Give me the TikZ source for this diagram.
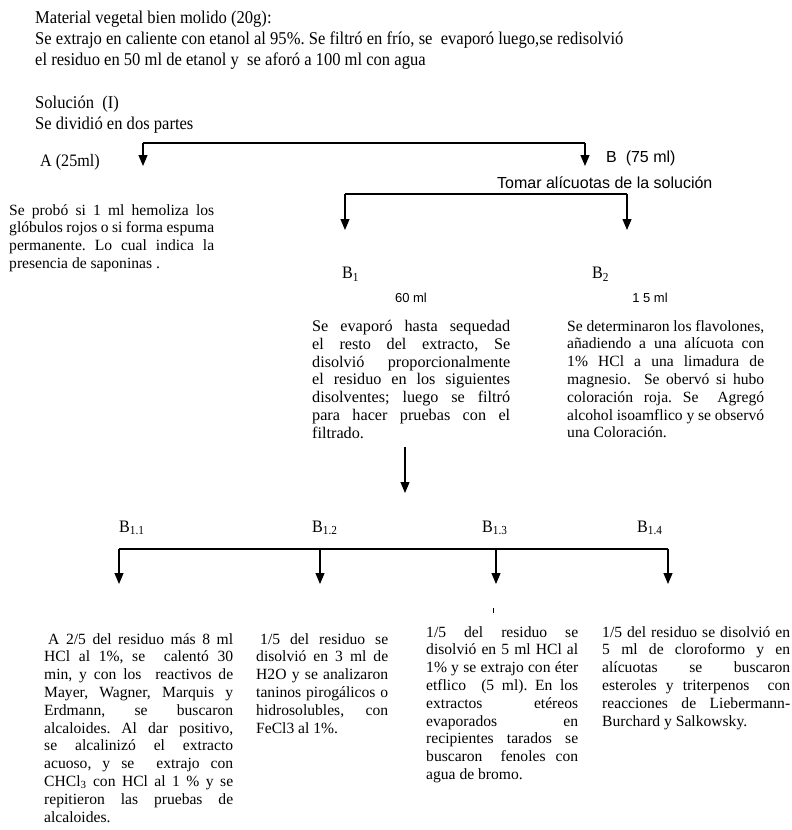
\documentclass[tikz,border=0pt]{standalone}
\usepackage{fontspec}
\setmainfont{Liberation Serif}
\setsansfont{Liberation Sans}
\newfontfamily\condserif{Liberation Serif}[FakeStretch=0.92]
\usetikzlibrary{arrows.meta}
\frenchspacing
\tikzset{
 flow/.style={line width=1.2pt, -{Triangle[width=9pt,length=11pt]}},
 bar/.style={line width=1.2pt},
 toptext/.style={anchor=north west, inner sep=0pt, align=left, font=\condserif\fontsize{18}{21}\selectfont},
 para/.style={anchor=north west, inner sep=0pt, align=left, font=\fontsize{15.6}{17.8}\selectfont},
 lbl/.style={anchor=west, inner sep=0pt, font=\condserif\fontsize{17.5}{20}\selectfont},
 slbl/.style={anchor=west, inner sep=0pt, font=\sffamily\fontsize{16}{20}\selectfont},
 mlbl/.style={inner sep=0pt, font=\sffamily\fontsize{13}{15}\selectfont},
}
\newcommand\jl[2]{\makebox[#1][s]{#2}}
\begin{document}
\begin{tikzpicture}[x=1pt,y=-1pt]
\useasboundingbox (0,0) rectangle (792,830);
\fill[white] (0,0) rectangle (792,830);

% top text
\node[toptext] (intro) at (35,11) {Material vegetal bien molido (20g):\\
Se extrajo en caliente con etanol al 95\%. Se filtró en frío, se\ \ evaporó luego,se redisolvió\\
el residuo en 50 ml de etanol y\ \ se aforó a 100 ml con agua};
\node[toptext] (sol) at (35,96) {Solución\ \ (I)\\Se dividió en dos partes};

% first split
\coordinate (s1L) at (143,143);
\coordinate (s1R) at (585,143);
\coordinate (aT) at (143,166);
\coordinate (bT) at (585,166);
\draw[bar] (s1L) -- (s1R);
\draw[flow] (s1L) -- (aT);
\draw[flow] (s1R) -- (bT);
\node[lbl] (A) at (40,162) {A (25ml)};
\node[slbl] (B) at (606,158) {B\ \ (75 ml)};
\node[slbl] (tomar) at (497,183) {Tomar alícuotas de la solución};

% A paragraph
\node[para] (Ap) at (9,204) {\jl{205pt}{Se probó si 1 ml hemoliza los}\\
\jl{205pt}{glóbulos rojos o si forma espuma}\\
\jl{205pt}{permanente. Lo cual indica la}\\
presencia de saponinas .};

% second split
\coordinate (s2L) at (345,194);
\coordinate (s2R) at (627,194);
\coordinate (b1T) at (345,230);
\coordinate (b2T) at (627,230);
\draw[bar] (s2L) -- (s2R);
\draw[flow] (s2L) -- (b1T);
\draw[flow] (s2R) -- (b2T);

\node[lbl] (B1) at (342,274) {B\textsubscript{1}};
\node[lbl] (B2) at (592,274) {B\textsubscript{2}};
\node[mlbl] (v1) at (411,298) {60 ml};
\node[mlbl] (v2) at (650,298) {1 5 ml};

\node[para, font=\fontsize{16.2}{17.8}\selectfont] (B1p) at (312,320) {\jl{198pt}{Se evaporó hasta sequedad}\\
\jl{198pt}{el resto del extracto, Se}\\
\jl{198pt}{disolvió proporcionalmente}\\
\jl{198pt}{el residuo en los siguientes}\\
\jl{198pt}{disolventes; luego se filtró}\\
\jl{198pt}{para hacer pruebas con el}\\
filtrado.};

\node[para] (B2p) at (567,320) {\jl{197pt}{Se determinaron los flavolones,}\\
\jl{197pt}{añadiendo a una alícuota con}\\
\jl{197pt}{1\% HCl a una limadura de}\\
\jl{197pt}{magnesio.\ \ Se obervó si hubo}\\
\jl{197pt}{coloración roja. Se\hspace{8pt} Agregó}\\
\jl{197pt}{alcohol isoamflico y\ se observó}\\
una Coloración.};

% B1 down
\coordinate (b1down) at (405,447);
\coordinate (b1end) at (405,493);
\draw[flow] (b1down) -- (b1end);

% bottom split
\node[lbl] (B11) at (119,528) {B\textsubscript{1.1}};
\node[lbl] (B12) at (312,528) {B\textsubscript{1.2}};
\node[lbl] (B13) at (482,528) {B\textsubscript{1.3}};
\node[lbl] (B14) at (637,528) {B\textsubscript{1.4}};
\coordinate (s3L) at (119,549);
\coordinate (s3b) at (320,549);
\coordinate (s3c) at (496,549);
\coordinate (s3R) at (668,549);
\coordinate (t1) at (119,584);
\coordinate (t2) at (320,584);
\coordinate (t3) at (496,584);
\coordinate (t4) at (668,584);
\draw[bar] (s3L) -- (s3R);
\draw[flow] (s3L) -- (t1);
\draw[flow] (s3b) -- (t2);
\draw[flow] (s3c) -- (t3);
\draw[flow] (s3R) -- (t4);
\coordinate (tickA) at (493,608);
\coordinate (tickB) at (493,613);
\draw[line width=0.8pt] (tickA) -- (tickB);

\node[para] (B11p) at (44,633) {\jl{189pt}{\hspace{4pt}A 2/5 del residuo más 8 ml}\\
\jl{189pt}{HCl al 1\%, se\hspace{10pt} calentó 30}\\
\jl{189pt}{min, y con los\ \ reactivos de}\\
\jl{189pt}{Mayer, Wagner, Marquis y}\\
\jl{189pt}{Erdmann, se buscaron}\\
\jl{189pt}{alcaloides. Al dar positivo,}\\
\jl{189pt}{se alcalinizó el extracto}\\
\jl{189pt}{acuoso, y se\ \ extrajo con}\\
\jl{189pt}{CHCl\textsubscript{3} con HCl al 1 \% y se}\\
\jl{189pt}{repitieron las pruebas de}\\
alcaloides.};

\node[para] (B12p) at (256,633) {\jl{132pt}{\hspace{4pt}1/5 del residuo se}\\
\jl{132pt}{disolvió en 3 ml de}\\
\jl{132pt}{H2O y se analizaron}\\
\jl{132pt}{taninos pirogálicos o}\\
\jl{132pt}{hidrosolubles, con}\\
FeCl3 al 1\%.};

\node[para] (B13p) at (426,626) {\jl{152pt}{1/5 del residuo se}\\
\jl{152pt}{disolvió en 5 ml HCl al}\\
\jl{152pt}{1\% y se extrajo con éter}\\
\jl{152pt}{etflico\ \ (5 ml). En los}\\
\jl{152pt}{extractos etéreos}\\
\jl{152pt}{evaporados en}\\
\jl{152pt}{recipientes tarados se}\\
\jl{152pt}{buscaron\hspace{8pt} fenoles con}\\
agua de bromo.};

\node[para] (B14p) at (602,626) {\jl{188pt}{1/5 del residuo se disolvió en}\\
\jl{188pt}{5 ml de cloroformo y en}\\
\jl{188pt}{alícuotas se buscaron}\\
\jl{188pt}{esteroles y triterpenos\ \ con}\\
\jl{188pt}{reacciones de Liebermann-}\\
Burchard y Salkowsky.};
\end{tikzpicture}
\end{document}
